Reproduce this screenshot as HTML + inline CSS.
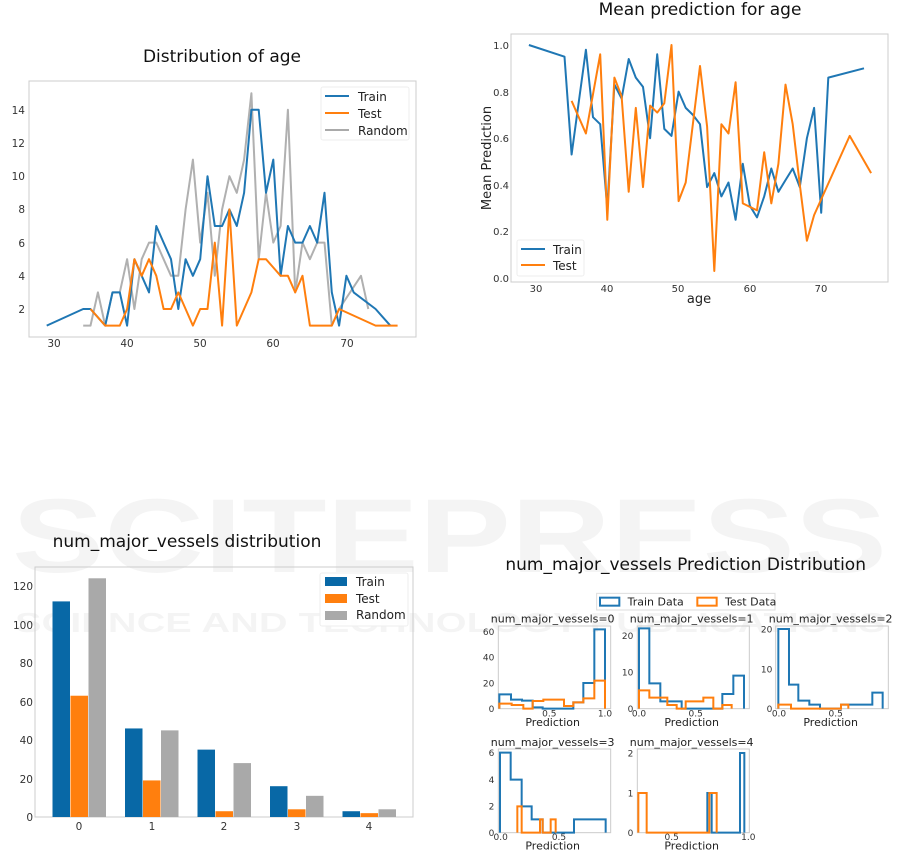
<!DOCTYPE html>
<html><head><meta charset="utf-8"><style>
html,body{margin:0;padding:0;background:#fff;}
svg{display:block;font-family:"DejaVu Sans","Liberation Sans",sans-serif;}
</style></head><body>
<svg id="s" width="901" height="854" viewBox="0 0 901 854" xmlns="http://www.w3.org/2000/svg">
<g fill="#000" fill-opacity="0.045" font-family="Liberation Sans, sans-serif" font-weight="bold">
<text x="12" y="572" font-size="105" textLength="875" lengthAdjust="spacingAndGlyphs">SCITEPRESS</text>
<text x="15" y="632" font-size="28" textLength="870" lengthAdjust="spacingAndGlyphs">SCIENCE AND TECHNOLOGY PUBLICATIONS</text>
</g>
<text x="222" y="62" font-size="17" text-anchor="middle" fill="#111">Distribution of age</text>
<rect x="29" y="81" width="387" height="256" fill="none" stroke="#ccc" stroke-width="1"/>
<g id="c1"></g>
<g font-size="10.5" fill="#333">
<text x="54" y="347" text-anchor="middle">30</text><text x="127" y="347" text-anchor="middle">40</text><text x="200" y="347" text-anchor="middle">50</text><text x="273" y="347" text-anchor="middle">60</text><text x="347" y="347" text-anchor="middle">70</text>
<text x="25" y="114" text-anchor="end">14</text><text x="25" y="147" text-anchor="end">12</text><text x="25" y="180" text-anchor="end">10</text><text x="25" y="213" text-anchor="end">8</text><text x="25" y="247" text-anchor="end">6</text><text x="25" y="280" text-anchor="end">4</text><text x="25" y="313" text-anchor="end">2</text>
</g>
<rect x="321" y="87" width="88" height="53" fill="#fff" fill-opacity="0.85" stroke="#eee" rx="2"/>
<g stroke-width="2"><line x1="325" y1="96" x2="349" y2="96" stroke="#1f77b4"/><line x1="325" y1="113" x2="349" y2="113" stroke="#ff7f0e"/><line x1="325" y1="130" x2="349" y2="130" stroke="#aaa"/></g>
<g font-size="12" fill="#222"><text x="358" y="101">Train</text><text x="358" y="118">Test</text><text x="358" y="135">Random</text></g>

<text x="700" y="15" font-size="17" text-anchor="middle" fill="#111">Mean prediction for age</text>
<rect x="511" y="34" width="377" height="248" fill="none" stroke="#ccc" stroke-width="1"/>
<g id="c2"></g>
<g font-size="10" fill="#333">
<text x="536" y="292" text-anchor="middle">30</text><text x="607" y="292" text-anchor="middle">40</text><text x="678" y="292" text-anchor="middle">50</text><text x="750" y="292" text-anchor="middle">60</text><text x="821" y="292" text-anchor="middle">70</text>
<text x="509" y="49" text-anchor="end">1.0</text><text x="509" y="96" text-anchor="end">0.8</text><text x="509" y="142" text-anchor="end">0.6</text><text x="509" y="189" text-anchor="end">0.4</text><text x="509" y="235" text-anchor="end">0.2</text><text x="509" y="282" text-anchor="end">0.0</text>
</g>
<text x="699" y="303" font-size="13" text-anchor="middle" fill="#222">age</text>
<text transform="translate(491,158) rotate(-90)" font-size="13" text-anchor="middle" fill="#222">Mean Prediction</text>
<rect x="517" y="240" width="67" height="36" fill="#fff" fill-opacity="0.85" stroke="#eee" rx="2"/>
<g stroke-width="2"><line x1="521" y1="249" x2="545" y2="249" stroke="#1f77b4"/><line x1="521" y1="265" x2="545" y2="265" stroke="#ff7f0e"/></g>
<g font-size="12" fill="#222"><text x="553" y="254">Train</text><text x="553" y="270">Test</text></g>

<text x="187" y="547" font-size="17" text-anchor="middle" fill="#111">num_major_vessels distribution</text>
<rect x="35" y="567" width="378" height="250" fill="none" stroke="#ccc" stroke-width="1"/>
<g id="c3"></g>
<g font-size="10.5" fill="#333">
<text x="79" y="830" text-anchor="middle">0</text><text x="152" y="830" text-anchor="middle">1</text><text x="224" y="830" text-anchor="middle">2</text><text x="297" y="830" text-anchor="middle">3</text><text x="369" y="830" text-anchor="middle">4</text>
<text x="33" y="821" text-anchor="end">0</text><text x="33" y="783" text-anchor="end">20</text><text x="33" y="744" text-anchor="end">40</text><text x="33" y="706" text-anchor="end">60</text><text x="33" y="667" text-anchor="end">80</text><text x="33" y="629" text-anchor="end">100</text><text x="33" y="590" text-anchor="end">120</text>
</g>
<rect x="320" y="573" width="88" height="53" fill="#fff" fill-opacity="0.85" stroke="#eee" rx="2"/>
<rect x="325" y="577" width="22" height="9" fill="#0868a6"/><rect x="325" y="594" width="22" height="9" fill="#ff7f0e"/><rect x="325" y="611" width="22" height="9" fill="#a9a9a9"/>
<g font-size="12" fill="#222"><text x="356" y="586">Train</text><text x="356" y="603">Test</text><text x="356" y="619">Random</text></g>

<g transform="translate(460,550) scale(0.33333)">
<text x="677" y="60" font-size="51" text-anchor="middle" fill="#111">num_major_vessels Prediction Distribution</text>
<rect x="410" y="130" width="535" height="50" fill="#fff" stroke="#ddd" stroke-width="3"/>
<rect x="420" y="143" width="58" height="24" fill="none" stroke="#1f77b4" stroke-width="6"/>
<rect x="712" y="143" width="58" height="24" fill="none" stroke="#ff7f0e" stroke-width="6"/>
<g font-size="33" fill="#222"><text x="503" y="166">Train Data</text><text x="795" y="166">Test Data</text>
<text x="278" y="218" text-anchor="middle">num_major_vessels=0</text>
<text x="695" y="218" text-anchor="middle">num_major_vessels=1</text>
<text x="1112" y="218" text-anchor="middle">num_major_vessels=2</text>
<text x="278" y="588" text-anchor="middle">num_major_vessels=3</text>
<text x="695" y="588" text-anchor="middle">num_major_vessels=4</text>
<text x="278" y="528" text-anchor="middle">Prediction</text>
<text x="695" y="528" text-anchor="middle">Prediction</text>
<text x="1112" y="528" text-anchor="middle">Prediction</text>
<text x="278" y="899" text-anchor="middle">Prediction</text>
<text x="695" y="899" text-anchor="middle">Prediction</text>
</g>
<g fill="none" stroke="#ccc" stroke-width="3">
<rect x="115" y="228" width="337" height="248"/><rect x="532" y="228" width="336" height="248"/><rect x="947" y="228" width="338" height="248"/>
<rect x="115" y="597" width="337" height="251"/><rect x="532" y="597" width="336" height="251"/>
</g>
<g font-size="27" fill="#333">
<text x="103" y="486" text-anchor="end">0</text><text x="103" y="409" text-anchor="end">20</text><text x="103" y="332" text-anchor="end">40</text><text x="103" y="255" text-anchor="end">60</text>
<text x="268" y="500" text-anchor="middle">0.5</text><text x="435" y="500" text-anchor="middle">1.0</text>
<text x="520" y="486" text-anchor="end">0</text><text x="520" y="377" text-anchor="end">10</text><text x="520" y="267" text-anchor="end">20</text>
<text x="537" y="500" text-anchor="middle">0.0</text><text x="707" y="500" text-anchor="middle">0.5</text>
<text x="937" y="486" text-anchor="end">0</text><text x="937" y="367" text-anchor="end">10</text><text x="937" y="247" text-anchor="end">20</text>
<text x="957" y="500" text-anchor="middle">0.0</text><text x="1127" y="500" text-anchor="middle">0.5</text>
<text x="103" y="858" text-anchor="end">0</text><text x="103" y="779" text-anchor="end">2</text><text x="103" y="699" text-anchor="end">4</text><text x="103" y="618" text-anchor="end">6</text>
<text x="122" y="870" text-anchor="middle">0.0</text><text x="297" y="870" text-anchor="middle">0.5</text>
<text x="520" y="858" text-anchor="end">0</text><text x="520" y="739" text-anchor="end">1</text><text x="520" y="619" text-anchor="end">2</text>
<text x="635" y="870" text-anchor="middle">0.5</text><text x="865" y="870" text-anchor="middle">1.0</text>
</g>
<g fill="none" stroke-width="6">
<path stroke="#1f77b4" d="M118 476 V433 H153 V449 H186 V452 H218 V472 H248 V476 H340 V457 H370 V399 H403 V238 H435 V476"/>
<path stroke="#ff7f0e" d="M118 476 V461 H155 V465 H190 V476 H218 V453 H250 V449 H312 V468 H340 V457 H370 V445 H403 V392 H435 V476"/>
<path stroke="#1f77b4" d="M537 476 V235 H568 V400 H601 V454 H665 V476 H787 V432 H820 V377 H852 V476"/>
<path stroke="#ff7f0e" d="M537 476 V421 H568 V443 H622 V465 H650 V476 H677 V454 H730 V443 H760 V476 H787 V465 H815 V476"/>
<path stroke="#1f77b4" d="M955 476 V237 H987 V404 H1015 V452 H1048 V464 H1080 V476 H1143 V464 H1237 V428 H1268 V476"/>
<path stroke="#ff7f0e" d="M955 476 V464 H993 V476 H1143 V464 H1165 V476"/>
<path stroke="#1f77b4" d="M120 848 V608 H152 V689 H185 V769 H215 V808 H248 V848 H342 V808 H437 V848"/>
<path stroke="#ff7f0e" d="M172 848 V769 H185 V848 H240 V808 H248 V848 H272 V808 H287 V848"/>
<path stroke="#1f77b4" d="M742 848 V729 H755 V848 H840 V609 H853 V848"/>
<path stroke="#ff7f0e" d="M535 848 V729 H560 V848 H748 V729 H770 V848"/>
</g>
</g>
</svg>
<script>
const NS="http://www.w3.org/2000/svg";
function line(g,pts,color,w){const p=document.createElementNS(NS,"polyline");p.setAttribute("points",pts.map(q=>q.join(",")).join(" "));p.setAttribute("fill","none");p.setAttribute("stroke",color);p.setAttribute("stroke-width",w);p.setAttribute("stroke-linejoin","round");document.getElementById(g).appendChild(p);}
const x1=a=>54+(a-30)*7.31, y1=v=>309-(v-2)*16.6;
const tr1=[[29,1],[34,2],[35,2],[37,1],[38,3],[39,3],[40,1],[41,5],[42,4],[43,3],[44,7],[45,6],[46,5],[47,2],[48,5],[49,4],[50,5],[51,10],[52,7],[53,7],[54,8],[55,7],[56,9],[57,14],[58,14],[59,9],[60,11],[61,4],[62,7],[63,6],[64,6],[65,7],[66,6],[67,9],[68,3],[69,1],[70,4],[71,3],[74,2],[76,1]];
const te1=[[35,2],[37,1],[39,1],[40,2],[41,5],[42,4],[43,5],[44,4],[45,2],[46,2],[47,3],[48,2],[49,1],[50,2],[51,2],[52,6],[53,1],[54,8],[55,1],[56,2],[57,3],[58,5],[59,5],[60,4.5],[61,4],[62,4],[63,3],[64,4],[65,1],[68,1],[69,2],[74,1],[77,1]];
const rn1=[[34,1],[35,1],[36,3],[37,1],[38,3],[39,3],[40,5],[41,2],[42,5],[43,6],[44,6],[45,5],[46,4],[47,4],[48,8],[49,11],[50,6],[51,9],[52,4],[53,8],[54,10],[55,9],[56,11],[57,15],[58,5],[59,9],[60,6],[61,7],[62,14],[63,3],[64,6],[65,5],[66,6],[67,6],[68,1],[69,2],[72,4],[73,2]];
const m1=d=>d.map(([a,v])=>[x1(a).toFixed(1),y1(v).toFixed(1)]);
line("c1",m1(rn1),"#b0b0b0",2);line("c1",m1(tr1),"#1f77b4",2);line("c1",m1(te1),"#ff7f0e",2);
const x2=a=>536+(a-30)*7.13, y2=v=>278-v*233;
const tr2=[[29,1.0],[34,0.95],[35,0.53],[37,0.98],[38,0.69],[39,0.66],[40,0.3],[41,0.83],[42,0.77],[43,0.94],[44,0.86],[45,0.82],[46,0.6],[47,0.96],[48,0.64],[49,0.61],[50,0.8],[51,0.73],[52,0.7],[53,0.66],[54,0.39],[55,0.45],[56,0.35],[57,0.41],[58,0.25],[59,0.49],[60,0.31],[61,0.26],[62,0.35],[63,0.47],[64,0.37],[65,0.42],[66,0.47],[67,0.39],[68,0.6],[69,0.73],[70,0.28],[71,0.86],[76,0.9]];
const te2=[[35,0.76],[37,0.62],[39,0.96],[40,0.25],[41,0.86],[42,0.78],[43,0.37],[44,0.73],[45,0.39],[46,0.74],[47,0.71],[48,0.75],[49,1.0],[50,0.33],[51,0.41],[53,0.91],[54,0.65],[55,0.03],[56,0.66],[57,0.62],[58,0.84],[59,0.32],[61,0.29],[62,0.54],[63,0.32],[64,0.49],[65,0.83],[66,0.66],[67,0.4],[68,0.16],[69,0.27],[74,0.61],[77,0.45]];
const m2=d=>d.map(([a,v])=>[x2(a).toFixed(1),y2(v).toFixed(1)]);
line("c2",m2(tr2),"#1f77b4",2);line("c2",m2(te2),"#ff7f0e",2);
const tr=[112,46,35,16,3],te=[63,19,3,4,2],rn=[124,45,28,11,4];
const g3=document.getElementById("c3");
function bar(x,v,c){const r=document.createElementNS(NS,"rect");const h=v*1.925;r.setAttribute("x",x);r.setAttribute("y",817-h);r.setAttribute("width",17.5);r.setAttribute("height",h);r.setAttribute("fill",c);g3.appendChild(r);}
for(let i=0;i<5;i++){const c=79+i*72.5;bar(c-26.5,tr[i],"#0868a6");bar(c-8.5,te[i],"#ff7f0e");bar(c+9.5,rn[i],"#a9a9a9");}
</script>
</body></html>
